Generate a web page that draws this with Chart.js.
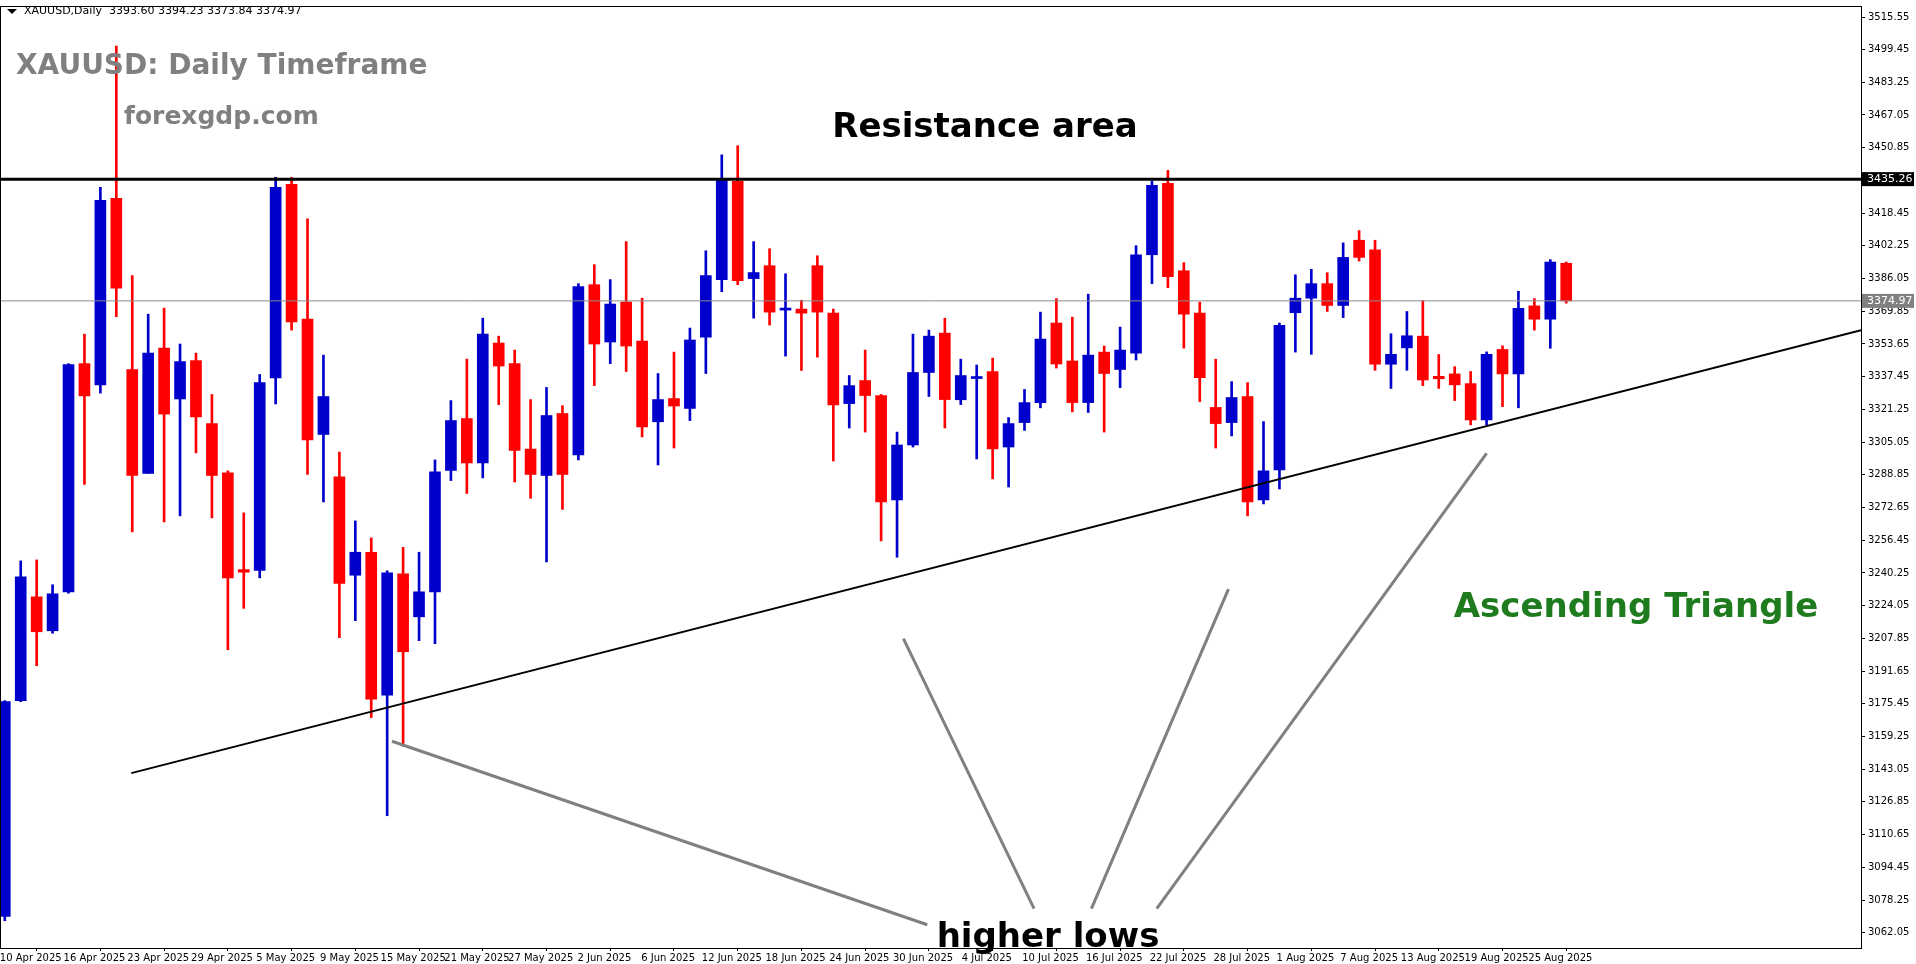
<!DOCTYPE html>
<html>
<head>
<meta charset="utf-8">
<script src="https://cdn.jsdelivr.net/npm/chart.js@4.4.1/dist/chart.umd.min.js"></script>
<style>
  html, body { margin: 0; padding: 0; background: #fff; }
  #wrap { position: relative; width: 1916px; height: 964px; }
</style>
</head>
<body>
<div id="wrap"><canvas id="chart"></canvas></div>
<script>
// OHLC diarios XAUUSD, 10 Apr 2025 - 27 Aug 2025
const opens = [3070.2,3177,3228.4,3211.6,3230.9,3343.9,3333.3,3425.8,3340.9,3289.5,3351.6,3326.4,3345.4,3314.2,
  3289.8,3241.5,3241.5,3336.8,3432.7,3366,3308.8,3287.8,3239.1,3250.5,3179.7,3239.8,3218.5,
  3230.9,3291,3316.7,3294.7,3354.1,3343.9,3301.6,3288.5,3319.2,3298.7,3383,3354.6,3374.4,
  3355.1,3315.1,3326.6,3321.7,3357,3385.5,3434.2,3386,3392.4,3370.4,3370.9,3392.4,3368.9,
  3324.1,3335.5,3328.1,3276.4,3303.6,3339.5,3359,3326,3336.5,3340,3302.6,3314.7,3324.6,
  3364,3345.2,3324.6,3349.6,3341,3349.1,3397.8,3433.2,3389.9,3368.9,3322.2,3314.7,3327.6,3276.4,3291.3,
  3369.1,3376.3,3383.5,3372.7,3405,3400.2,3343.6,3351.7,3357.5,3337.6,3338.8,3334,3316,3350.9,3338.8,3372.5,3365.9,3393.6];
const highs = [3177,3246.2,3246.7,3234.4,3343.9,3358.5,3431.2,3501.2,3387.5,3368.4,3371.4,3353.6,3349.1,3328.6,
  3290.8,3270,3338.5,3436.2,3436.2,3415.6,3348.1,3300.1,3266,3257.6,3241.3,3252.9,3250.5,
  3296.2,3325.6,3346.1,3366.4,3357.5,3350.6,3326.1,3332.1,3323.1,3383.5,3392.9,3385.5,3404.3,
  3376.3,3339,3349.6,3361.5,3399.8,3447.3,3451.8,3404.3,3400.8,3388.4,3375.3,3397.3,3370.9,
  3338,3350.6,3328.6,3310,3358.5,3360.5,3366.4,3346.1,3343.2,3346.6,3317.2,3331.1,3369.4,
  3376.1,3366.9,3378.3,3352.6,3362,3402.3,3434.2,3439.6,3393.9,3374.3,3346.1,3335,3334.5,3315.2,3364,
  3387.9,3390.6,3388.9,3403.7,3409.8,3405,3358.7,3369.7,3375.1,3348.4,3342.4,3340,3349.7,3352.7,3379.7,3376.1,3395.4,3394.23];
const lows = [3068,3176.5,3194.3,3210.4,3230.2,3284.1,3329.3,3367.2,3260.6,3289.5,3265.5,3268.5,3299.7,3267.5,
  3202.2,3222.7,3237.8,3323.9,3360.5,3289,3275.4,3208.2,3216.6,3168.6,3120,3154.5,3206.7,
  3205.2,3286,3279.6,3287.3,3323.6,3285.3,3277.2,3245.7,3271.7,3296.2,3333,3343.9,3340,
  3307.6,3293.7,3302.1,3315.7,3339,3379.5,3383,3366.4,3363,3347.6,3340.5,3347.1,3295.7,
  3312,3310,3256.1,3248,3302.6,3327.6,3312,3323.6,3296.7,3286.8,3282.8,3310.8,3322,
  3341.7,3320,3319.7,3310,3332,3345.7,3383.5,3381.5,3351.6,3325.1,3302.1,3308.1,3268.5,3274.4,3281.8,
  3349.6,3348.5,3369.7,3366.7,3394.7,3340.6,3331.6,3340.6,3333,3331.6,3325.6,3313.6,3313.6,3322.6,3322,3360.5,3351.5,3373.84];
const closes = [3176.5,3238.3,3211.1,3229.9,3343.4,3327.9,3424.8,3381.3,3288.5,3349.1,3318.9,3344.9,3317.5,3288.5,
  3237.8,3241,3334.5,3431.2,3364.5,3306.1,3327.6,3235.1,3250.5,3177.7,3240.3,3201.2,3230.9,
  3290.3,3315.7,3294.7,3358.5,3342.7,3300.9,3289,3318.2,3289,3382,3353.6,3373.4,3352.6,
  3312.5,3326.1,3322.9,3355.6,3387.5,3434.7,3385,3389,3369.4,3371.4,3368.9,3369.4,3323.4,
  3333,3328.1,3275.4,3303.6,3339.5,3357.5,3326.1,3338,3337.5,3301.6,3314.2,3324.6,3356,
  3343.7,3324.6,3348.1,3339,3350.6,3397.8,3432.2,3386.9,3368.4,3337,3314.2,3327.1,3275.4,3290.8,3362.9,
  3376.3,3383.5,3372.7,3396.5,3396.5,3343.6,3348.5,3357.7,3335.8,3336.4,3333.4,3316,3348.5,3338.8,3371.3,3365.9,3394.2,3374.97];

// Etiquetas del eje X (cada 4 velas) y del eje Y
const fechas = ['10 Apr 2025','16 Apr 2025','23 Apr 2025','29 Apr 2025','5 May 2025','9 May 2025','15 May 2025',
  '21 May 2025','27 May 2025','2 Jun 2025','6 Jun 2025','12 Jun 2025','18 Jun 2025','24 Jun 2025','30 Jun 2025',
  '4 Jul 2025','10 Jul 2025','16 Jul 2025','22 Jul 2025','28 Jul 2025','1 Aug 2025','7 Aug 2025','13 Aug 2025',
  '19 Aug 2025','25 Aug 2025'];
const precios = [3062.05,3078.25,3094.45,3110.65,3126.85,3143.05,3159.25,3175.45,3191.65,3207.85,3224.05,3240.25,
  3256.45,3272.65,3288.85,3305.05,3321.25,3337.45,3353.65,3369.85,3386.05,3402.25,3418.45,3450.85,
  3467.05,3483.25,3499.45,3515.55];

const resistencia = 3435.26;
const ultimo = 3374.97;
// Linea de tendencia [indice, precio]
const tendencia = [[7.94, 3141.1], [116.5, 3360.5]];
// Flechas grises "higher lows"
const flechas = [
  [[24.3, 3156.9], [57.9, 3066]],
  [[56.4, 3207.7], [64.6, 3074]],
  [[76.8, 3232.2], [68.2, 3074]],
  [[93.0, 3299.5], [72.3, 3074]]
];

const azul = '#0000CC';
const rojo = '#FF0000';
const colores = closes.map((c, i) => c >= opens[i] ? azul : rojo);
const mechas = highs.map((h, i) => ({ x: i, y: [lows[i], h] }));
const cuerpos = opens.map((o, i) => {
  const c = closes[i];
  const lo = Math.min(o, c), hi = Math.max(o, c);
  return { x: i, y: hi - lo < 0.8 ? [lo - 0.4, hi + 0.4] : [lo, hi] };
});

const dibujos = {
  id: 'dibujos',
  afterDatasetsDraw(chart) {
    const { ctx, scales: { x, y }, chartArea: a } = chart;
    ctx.save();
    ctx.beginPath();
    ctx.rect(a.left, a.top, a.right - a.left, a.bottom - a.top);
    ctx.clip();
    // precio actual
    ctx.strokeStyle = '#8a8a8a'; ctx.lineWidth = 1;
    ctx.beginPath(); ctx.moveTo(a.left, y.getPixelForValue(ultimo)); ctx.lineTo(a.right, y.getPixelForValue(ultimo)); ctx.stroke();
    // resistencia
    ctx.strokeStyle = '#000'; ctx.lineWidth = 3;
    ctx.beginPath(); ctx.moveTo(a.left, y.getPixelForValue(resistencia)); ctx.lineTo(a.right, y.getPixelForValue(resistencia)); ctx.stroke();
    // tendencia
    ctx.lineWidth = 2;
    ctx.beginPath();
    ctx.moveTo(x.getPixelForValue(tendencia[0][0]), y.getPixelForValue(tendencia[0][1]));
    ctx.lineTo(x.getPixelForValue(tendencia[1][0]), y.getPixelForValue(tendencia[1][1]));
    ctx.stroke();
    // flechas
    ctx.strokeStyle = '#808080'; ctx.lineWidth = 3;
    flechas.forEach(([p, q]) => {
      ctx.beginPath();
      ctx.moveTo(x.getPixelForValue(p[0]), y.getPixelForValue(p[1]));
      ctx.lineTo(x.getPixelForValue(q[0]), y.getPixelForValue(q[1]));
      ctx.stroke();
    });
    ctx.restore();

    // textos
    ctx.save();
    ctx.textBaseline = 'middle';
    ctx.fillStyle = '#000'; ctx.font = '11px "DejaVu Sans"'; ctx.textAlign = 'left';
    ctx.fillText('XAUUSD,Daily  3393.60 3394.23 3373.84 3374.97', 24, 11);
    ctx.beginPath(); ctx.moveTo(7, 9); ctx.lineTo(17, 9); ctx.lineTo(12, 14); ctx.fill();
    ctx.fillStyle = '#808080'; ctx.font = 'bold 28px "DejaVu Sans"';
    ctx.fillText('XAUUSD: Daily Timeframe', 16, 67);
    ctx.font = 'bold 25px "DejaVu Sans"';
    ctx.fillText('forexgdp.com', 124, 117);
    ctx.textAlign = 'center'; ctx.fillStyle = '#000'; ctx.font = 'bold 34px "DejaVu Sans"';
    ctx.fillText('Resistance area', 985, 128);
    ctx.fillText('higher lows', 1048, 938);
    ctx.fillStyle = '#1E7B1E';
    ctx.fillText('Ascending Triangle', 1636, 608);
    // etiquetas de precio en el eje
    ctx.textAlign = 'left'; ctx.font = '11px "DejaVu Sans"';
    const etiqueta = (v, fondo) => {
      const py = y.getPixelForValue(v);
      ctx.fillStyle = fondo; ctx.fillRect(a.right + 1, py - 7, 52, 14);
      ctx.fillStyle = '#fff'; ctx.fillText(v.toFixed(2), a.right + 6, py);
    };
    etiqueta(ultimo, '#808080');
    etiqueta(resistencia, '#000');
    // marco
    ctx.strokeStyle = '#000'; ctx.lineWidth = 1;
    ctx.strokeRect(a.left + 0.5, a.top + 0.5, a.right - a.left, a.bottom - a.top);
    ctx.restore();
  }
};

new Chart(document.getElementById('chart'), {
  type: 'bar',
  data: {
    datasets: [
      { data: mechas, backgroundColor: colores, barThickness: 2, grouped: false, order: 2 },
      { data: cuerpos, backgroundColor: colores, barThickness: 11, grouped: false, order: 1 }
    ]
  },
  options: {
    responsive: true,
    maintainAspectRatio: false,
    animation: false,
    layout: { padding: { top: 6, left: 0, right: 0, bottom: 0 } },
    plugins: { legend: { display: false }, tooltip: { enabled: false } },
    scales: {
      x: {
        type: 'linear', min: -0.3, max: 116.5, offset: false,
        afterBuildTicks: s => { s.ticks = fechas.map((f, i) => ({ value: i * 4 })); },
        ticks: {
          color: '#000', font: { family: 'DejaVu Sans', size: 10 }, maxRotation: 0, autoSkip: false,
          labelOffset: 26, padding: 1,
          callback: (v) => fechas[Math.round(v / 4)]
        },
        grid: { drawOnChartArea: false, color: '#000', tickLength: 3 },
        border: { color: '#000' },
        afterFit: s => { s.height = 16; s.paddingLeft = 0; s.paddingRight = 0; }
      },
      y: {
        position: 'right', min: 3054.5, max: 3521,
        afterBuildTicks: s => { s.ticks = precios.map(v => ({ value: v })); },
        ticks: {
          color: '#000', font: { family: 'DejaVu Sans', size: 10 }, padding: 3,
          callback: v => v.toFixed(2)
        },
        grid: { drawOnChartArea: false, color: '#000', tickLength: 4 },
        border: { color: '#000' },
        afterFit: s => { s.width = 55; s.paddingTop = 0; s.paddingBottom = 0; }
      }
    }
  },
  plugins: [dibujos]
});
</script>
</body>
</html>
